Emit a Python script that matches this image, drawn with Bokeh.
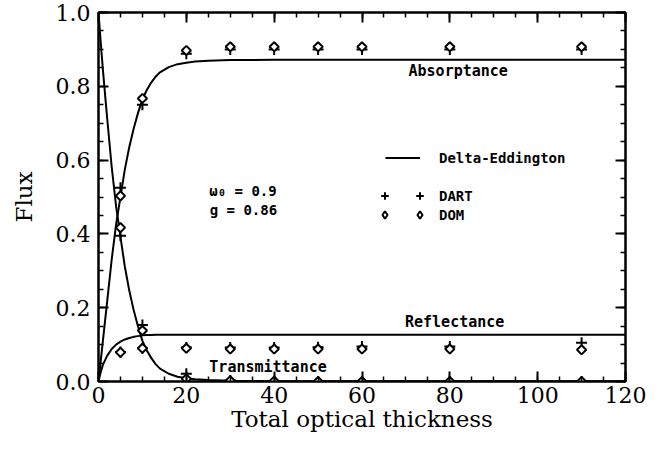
from bokeh.plotting import figure
from bokeh.models import (Range1d, LinearAxis, SingleIntervalTicker, Legend, LegendItem,
                          Label, NumeralTickFormatter)
from bokeh.embed import file_html
from bokeh.resources import INLINE

# ---- measured data points ----
tau_pts = [5, 10, 20, 30, 40, 50, 60, 80, 110]
dart_abs = [0.525, 0.750, 0.888, 0.900, 0.900, 0.900, 0.900, 0.900, 0.900]
dom_abs = [0.503, 0.767, 0.897, 0.907, 0.907, 0.907, 0.907, 0.907, 0.907]
dart_ref = [0.080, 0.090, 0.092, 0.092, 0.092, 0.093, 0.095, 0.095, 0.105]
dom_ref = [0.079, 0.090, 0.090, 0.088, 0.088, 0.088, 0.088, 0.088, 0.086]
dart_tra = [0.395, 0.153, 0.021, 0.003, 0.001, 0.000, 0.000, 0.000, 0.000]
dom_tra = [0.417, 0.138, 0.007, 0.002, 0.001, 0.000, 0.000, 0.000, 0.000]

# ---- Delta-Eddington curves ----
tau_de = [0, 0.5, 1, 1.5, 2, 3, 4, 5, 6, 7, 8, 9, 10, 11, 12, 13, 14, 16, 18, 20, 22, 25, 30, 40, 60, 120]
de_abs = [0, 0.055, 0.11, 0.165, 0.22, 0.33, 0.425, 0.50, 0.575, 0.635, 0.685, 0.728, 0.765, 0.79,
          0.81, 0.826, 0.838, 0.852, 0.86, 0.864, 0.867, 0.869, 0.871, 0.872, 0.872, 0.872]
de_ref = [0, 0.025, 0.045, 0.058, 0.07, 0.088, 0.10, 0.108, 0.114, 0.118, 0.121, 0.123, 0.125, 0.126,
          0.126, 0.127, 0.127, 0.127, 0.127, 0.127, 0.127, 0.127, 0.127, 0.127, 0.127, 0.127]
de_tra = [1.0, 0.92, 0.845, 0.777, 0.71, 0.582, 0.475, 0.392, 0.311, 0.247, 0.194, 0.149, 0.11, 0.084,
          0.064, 0.047, 0.035, 0.021, 0.013, 0.009, 0.006, 0.004, 0.002, 0.001, 0.001, 0.001]

x_ticks_interval = 20
y_ticks_interval = 0.2

MONO = "DejaVu Sans Mono"
SERIF = "DejaVu Serif"

p = figure(width=647, height=434, x_range=Range1d(0, 120), y_range=Range1d(0, 1.0),
           output_backend="svg", toolbar_location=None,
           min_border_left=98, min_border_right=22, min_border_top=12, min_border_bottom=52)
p.xgrid.visible = False
p.ygrid.visible = False
p.outline_line_color = "black"
p.outline_line_width = 2
p.background_fill_color = "white"
p.border_fill_color = "white"


def style_axis(ax, labels=True):
    ax.axis_line_width = 2
    ax.axis_line_color = "black"
    ax.major_tick_in = 10
    ax.major_tick_out = 0
    ax.minor_tick_in = 5
    ax.minor_tick_out = 0
    ax.major_tick_line_width = 2
    ax.minor_tick_line_width = 1.5
    ax.major_tick_line_color = "black"
    ax.minor_tick_line_color = "black"
    if labels:
        ax.major_label_text_font = SERIF
        ax.major_label_text_font_size = "22px"
        ax.major_label_text_color = "black"
        ax.axis_label_text_font = SERIF
        ax.axis_label_text_font_size = "23px"
        ax.axis_label_text_font_style = "normal"
        ax.axis_label_text_color = "black"
    else:
        ax.major_label_text_font_size = "1px"
        ax.major_label_text_color = None
        ax.major_label_standoff = 0


xa = p.xaxis[0]
ya = p.yaxis[0]
xa.ticker = SingleIntervalTicker(interval=x_ticks_interval, num_minor_ticks=4)
ya.ticker = SingleIntervalTicker(interval=y_ticks_interval, num_minor_ticks=4)
ya.formatter = NumeralTickFormatter(format="0.0")
style_axis(xa)
style_axis(ya)
xa.axis_label = "Total optical thickness"
ya.axis_label = "Flux"
xa.major_label_standoff = 5
xa.axis_label_standoff = 0
ya.major_label_standoff = 8
ya.axis_label_standoff = 16

top = LinearAxis(ticker=SingleIntervalTicker(interval=x_ticks_interval, num_minor_ticks=4))
style_axis(top, labels=False)
p.add_layout(top, "above")
right = LinearAxis(ticker=SingleIntervalTicker(interval=y_ticks_interval, num_minor_ticks=4))
style_axis(right, labels=False)
p.add_layout(right, "right")

# curves
r_de = p.line(tau_de, de_abs, line_color="black", line_width=2)
p.line(tau_de, de_ref, line_color="black", line_width=2)
p.line(tau_de, de_tra, line_color="black", line_width=2)

# DART crosses
cross_kw = dict(marker="cross", size=11, line_color="black", line_width=2)
r_dart = p.scatter(tau_pts, dart_abs, **cross_kw)
p.scatter(tau_pts, dart_ref, **cross_kw)
p.scatter(tau_pts, dart_tra, **cross_kw)

# DOM diamonds: a small diamond-marker layer (gives the legend its diamond key),
# covered by the rotated-square symbols on the same points
r_dom_key = p.scatter(tau_pts, dom_abs, marker="diamond", size=6, line_color="black",
                      line_width=2, fill_color="white")
dia_kw = dict(marker="square", angle=0.785398, size=6.5, line_color="black", line_width=2,
              fill_color="white")
p.scatter(tau_pts, dom_abs, **dia_kw)
p.scatter(tau_pts, dom_ref, **dia_kw)
p.scatter(tau_pts, dom_tra, **dia_kw)


def legend_style(lg, gw, standoff):
    lg.border_line_alpha = 0
    lg.background_fill_alpha = 0
    lg.padding = 0
    lg.margin = 0
    lg.spacing = 0
    lg.glyph_width = gw
    lg.glyph_height = 19
    lg.label_height = 19
    lg.label_standoff = standoff
    lg.label_text_font = MONO
    lg.label_text_font_style = "bold"
    lg.label_text_font_size = "14px"
    lg.label_text_color = "black"


leg1 = Legend(items=[LegendItem(label="Delta-Eddington", renderers=[r_de])], location=(287, 214))
legend_style(leg1, 35, 19)
leg2 = Legend(items=[LegendItem(label="DART", renderers=[r_dart]),
                     LegendItem(label="DOM", renderers=[r_dom_key])], location=(312, 157))
legend_style(leg2, 19, 10)
leg3 = Legend(items=[LegendItem(label="", renderers=[r_dart]),
                     LegendItem(label="", renderers=[r_dom_key])], location=(277, 157))
legend_style(leg3, 19, 0)
leg3.label_text_color = None
leg3.label_width = 0
p.add_layout(leg1)
p.add_layout(leg2)
p.add_layout(leg3)

# text annotations
ann = [
    ("Absorptance", 81.9, 0.841),
    ("Reflectance", 81.1, 0.160),
    ("Transmittance", 38.6, 0.038),
]
for txt, ax_, ay_ in ann:
    p.add_layout(Label(x=ax_, y=ay_, text=txt, text_align="center", text_baseline="middle",
                       text_font=MONO, text_font_style="bold", text_font_size="15px",
                       text_color="black"))
for txt, ax_, ay_ in [("ω₀ = 0.9", 32.9, 0.516), ("g = 0.86", 33.0, 0.466)]:
    p.add_layout(Label(x=ax_, y=ay_, text=txt, text_align="center", text_baseline="middle",
                       text_font=MONO, text_font_style="bold", text_font_size="14px",
                       text_color="black"))

open("out.html", "w").write(file_html(p, INLINE))
